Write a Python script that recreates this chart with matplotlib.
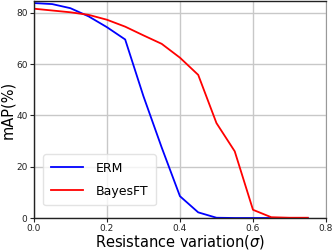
import numpy as np
import matplotlib
matplotlib.use("Agg")
import matplotlib.pyplot as plt

# resistance variation (sigma) and mAP for both methods
sigma = [0.0, 0.05, 0.1, 0.15, 0.2, 0.25, 0.3, 0.35, 0.4, 0.45, 0.5, 0.55, 0.6, 0.65, 0.7, 0.75]
erm = [83.8, 83.4, 81.8, 78.6, 74.4, 69.6, 47.5, 27.5, 8.5, 2.2, 0.1, 0.0, 0.0, 0.0, 0.0, 0.0]
bayesft = [81.6, 80.9, 80.2, 79.2, 77.3, 74.6, 71.2, 67.9, 62.5, 55.8, 37.0, 26.0, 3.2, 0.3, 0.1, 0.1]

xticks = [0.0, 0.2, 0.4, 0.6, 0.8]
yticks = [0, 20, 40, 60, 80]

fig = plt.figure(figsize=(3.32, 2.5), dpi=100)
ax = fig.add_axes([0.102, 0.128, 0.88, 0.868])

ax.plot(sigma, erm, color="blue", lw=1.3, label="ERM")
ax.plot(sigma, bayesft, color="red", lw=1.3, label="BayesFT")

ax.set_xlim(0, 0.8)
ax.set_ylim(0, 84.6)
ax.set_xticks(xticks)
ax.set_yticks(yticks)
ax.tick_params(labelsize=6.5, length=3, width=0.8, colors="#222222", pad=1.5)
ax.tick_params(top=False, right=False)
ax.grid(True, color="#c8c8c8", lw=1.0)
ax.set_axisbelow(True)

for s in ["left", "bottom", "top"]:
    ax.spines[s].set_color("#222222")
    ax.spines[s].set_linewidth(1.0)
ax.spines["right"].set_color("#999999")

ax.set_xlabel(r"Resistance variation($\sigma$)", fontsize=10.5, labelpad=-0.5)
ax.set_ylabel("mAP(%)", fontsize=10.5, labelpad=1)

leg = ax.legend(loc="lower left", fontsize=9, frameon=True, fancybox=True,
                handlelength=2.6, handletextpad=1.0, borderpad=0.6,
                labelspacing=0.8, bbox_to_anchor=(0.01, 0.03))
leg.get_frame().set_edgecolor("#dddddd")

plt.savefig("out.png", dpi=100)
